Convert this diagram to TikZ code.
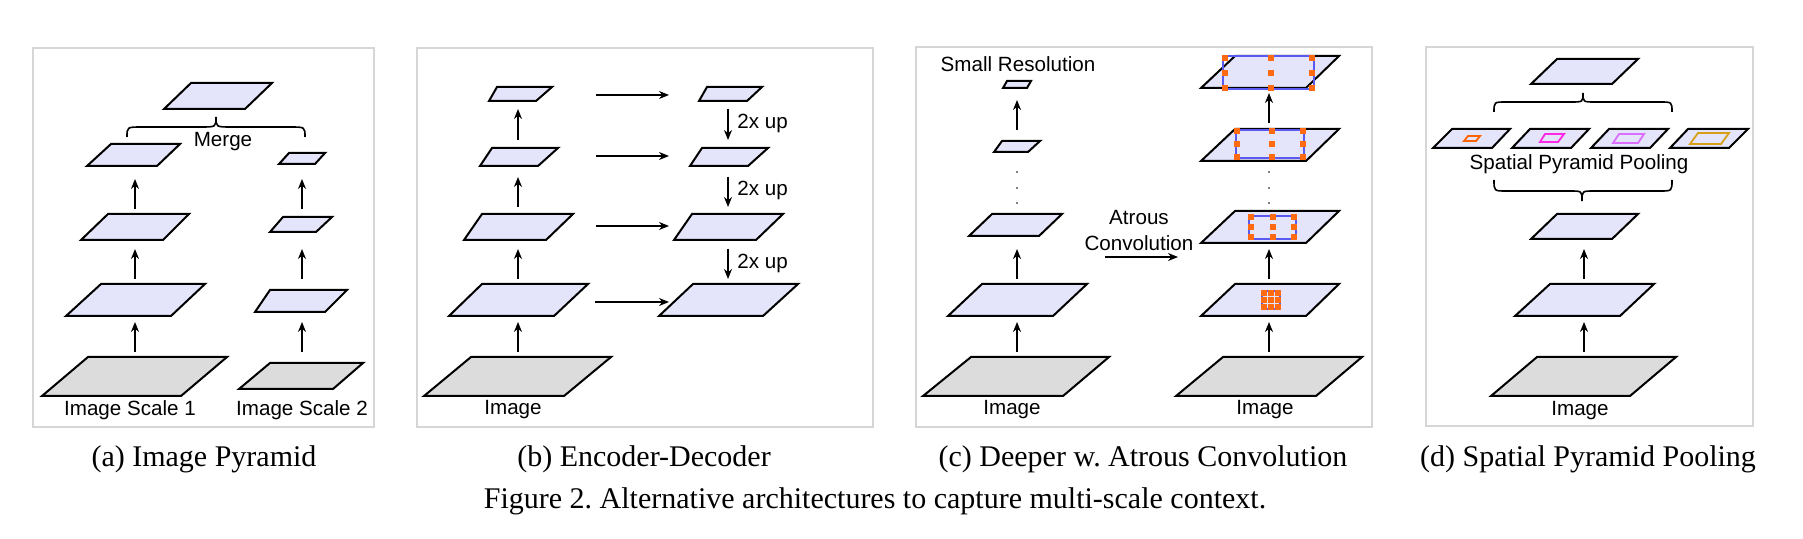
\documentclass[tikz,border=0pt]{standalone}
\usepackage{fontspec}
\setmainfont{Liberation Serif}
\newfontfamily\sansf{Liberation Sans}
\usetikzlibrary{arrows.meta}
\frenchspacing
\definecolor{lav}{HTML}{E4E4FB}
\definecolor{gr}{HTML}{DCDCDC}
\definecolor{frm}{HTML}{D6D6D6}
\definecolor{dotc}{HTML}{FF6A13}
\definecolor{bl}{HTML}{5A5AF0}
\newcommand\pgm[7]{\filldraw[pg,fill=#7] (#3,#1) -- (#4,#1) -- (#6,#2) -- (#5,#2) -- cycle;}
\newcommand\arw[5]{\coordinate (#1s) at (#2,#3); \coordinate (#1e) at (#4,#5); \draw[arr] (#1s) -- (#1e);}
\newcommand\brc[7]{% L R T E M P d
 \draw[brc] (#1,#4) .. controls (#1,#5) .. (#1+#7,#5) -- (#3-#7,#5) .. controls (#3,#5) .. (#3,#6)
  .. controls (#3,#5) .. (#3+#7,#5) -- (#2-#7,#5) .. controls (#2,#5) .. (#2,#4);}
\newcommand\od[2]{\fill[dotc] (#1-3,#2-3) rectangle (#1+3,#2+3);}
\tikzset{
 pg/.style={draw=black,line width=1pt,line join=miter},
 arr/.style={line width=0.8pt,-{Stealth[length=5pt,width=4pt]}},
 brc/.style={line width=0.8pt},
 lbl/.style={font=\sansf\fontsize{10.3}{12}\selectfont,inner sep=0pt},
 captxt/.style={font=\fontsize{15}{18}\selectfont,inner sep=0pt},
 frame/.style={draw=frm,line width=0.8pt},
 blr/.style={draw=bl,line width=0.7pt}
}
\begin{document}
\begin{tikzpicture}[x=0.5pt,y=-0.5pt]
\useasboundingbox (0,0) rectangle (1803,539);
% frames
\draw[frame] (33,48) rectangle (374,427);
\draw[frame] (417,48) rectangle (873,427);
\draw[frame] (916,47) rectangle (1372,427);
\draw[frame] (1426,47) rectangle (1753,426);
% ---------- (a)
\pgm{83}{109}{191}{272}{164}{245}{lav}
\brc{127}{305}{216}{137}{127}{117}{15}
\node[lbl] (merge) at (223,142) {Merge};
\pgm{144}{166}{111}{180}{87}{157}{lav}
\pgm{214}{240}{108}{189}{81}{163}{lav}
\pgm{284}{316}{101}{205}{66}{171}{lav}
\pgm{357}{396}{88}{227}{42}{181}{gr}
\pgm{153}{164}{289}{325}{279}{315}{lav}
\pgm{217}{232}{283}{332}{270}{316}{lav}
\pgm{290}{312}{270}{347}{255}{325}{lav}
\pgm{363}{389}{270}{363}{239}{333}{gr}
\arw{a1}{135}{209}{135}{179}
\arw{a2}{135}{279}{135}{249}
\arw{a3}{135}{352}{135}{322}
\arw{a4}{302}{209}{302}{179}
\arw{a5}{302}{279}{302}{249}
\arw{a6}{302}{352}{302}{322}
\node[lbl] (is1) at (130,410) {Image Scale 1};
\node[lbl] (is2) at (302,410) {Image Scale 2};
% ---------- (b)
\pgm{87}{101}{497}{552}{489}{536}{lav}
\pgm{148}{166}{492}{558}{480}{538}{lav}
\pgm{214}{240}{482}{573}{464}{546}{lav}
\pgm{284}{316}{482}{588}{449}{554}{lav}
\pgm{357}{396}{471}{611}{424}{564}{gr}
\arw{b1}{518}{140}{518}{109}
\arw{b2}{518}{207}{518}{177}
\arw{b3}{518}{279}{518}{249}
\arw{b4}{518}{352}{518}{322}
\pgm{87}{101}{707}{762}{699}{747}{lav}
\pgm{148}{166}{702}{768}{690}{748}{lav}
\pgm{214}{240}{692}{783}{674}{756}{lav}
\pgm{284}{316}{693}{798}{659}{763}{lav}
\arw{h1}{596}{95}{669}{95}
\arw{h2}{596}{156}{669}{156}
\arw{h3}{596}{226}{669}{226}
\arw{h4}{595}{302}{669}{302}
\arw{d1}{728}{109}{728}{140}
\arw{d2}{728}{177}{728}{207}
\arw{d3}{728}{249}{728}{279}
\node[lbl,anchor=west] (u1) at (737,123) {2x up};
\node[lbl,anchor=west] (u2) at (737,190) {2x up};
\node[lbl,anchor=west] (u3) at (737,263) {2x up};
\node[lbl] (imb) at (513,410) {Image};
% ---------- (c)
\node[lbl] (sr) at (1018,64) {Small Resolution};
\pgm{81}{88}{1007}{1031}{1003}{1027}{lav}
\pgm{141}{152}{1002}{1040}{994}{1028}{lav}
\pgm{214}{236}{992}{1062}{969}{1039}{lav}
\pgm{284}{316}{982}{1087}{948}{1053}{lav}
\pgm{357}{396}{971}{1109}{923}{1063}{gr}
\arw{c1}{1017}{130}{1017}{100}
\arw{c2}{1017}{279}{1017}{249}
\arw{c3}{1017}{352}{1017}{322}
\foreach \yy in {172,188,203}{\fill (1017,\yy) circle (0.9); \fill (1269,\yy) circle (0.9);}
\node[lbl,align=center] (atr) at (1139,231) {Atrous\\[1pt]Convolution};
\arw{h5}{1105}{257}{1178}{257}
\pgm{56}{88}{1235}{1339}{1201}{1306}{lav}
\draw[blr] (1223,56) rectangle (1314,89);
\foreach \xx in {1225,1271,1312}{\foreach \yy in {58,73,88}{\od{\xx}{\yy}}}
\pgm{129}{161}{1235}{1339}{1201}{1306}{lav}
\draw[blr] (1236,130) rectangle (1304,158);
\foreach \xx in {1237,1272,1303}{\foreach \yy in {131,144,157}{\od{\xx}{\yy}}}
\pgm{211}{243}{1235}{1339}{1201}{1306}{lav}
\draw[blr] (1249,216) rectangle (1296,239);
\foreach \xx in {1251,1273,1294}{\foreach \yy in {217,227,237}{\od{\xx}{\yy}}}
\pgm{284}{316}{1235}{1339}{1201}{1306}{lav}
\draw[blr] (1262,291) rectangle (1280,309);
\foreach \xx in {1264,1271,1278}{\foreach \yy in {293,300,307}{\fill[dotc] (\xx-2.6,\yy-2.6) rectangle (\xx+2.6,\yy+2.6);}}
\pgm{357}{396}{1223}{1362}{1176}{1316}{gr}
\arw{c4}{1269}{123}{1269}{93}
\arw{c5}{1269}{279}{1269}{249}
\arw{c6}{1269}{352}{1269}{322}
\node[lbl] (imc1) at (1012,410) {Image};
\node[lbl] (imc2) at (1265,410) {Image};
% ---------- (d)
\pgm{59}{84}{1557}{1638}{1531}{1612}{lav}
\brc{1494}{1672}{1583}{112}{102}{93}{12}
\pgm{129}{148}{1452}{1510}{1433}{1492}{lav}
\pgm{129}{148}{1530}{1589}{1512}{1571}{lav}
\pgm{129}{148}{1609}{1668}{1591}{1650}{lav}
\pgm{129}{148}{1688}{1748}{1670}{1729}{lav}
\draw[line width=0.9pt,draw={rgb,255:red,255;green,100;blue,0}] (1468,136) -- (1480,136) -- (1476,141) -- (1464,141) -- cycle;
\draw[line width=0.9pt,draw={rgb,255:red,255;green,40;blue,230}] (1545,134) -- (1564,134) -- (1558,142) -- (1540,142) -- cycle;
\draw[line width=0.9pt,draw={rgb,255:red,220;green,110;blue,255}] (1619,134) -- (1644,134) -- (1638,143) -- (1613,143) -- cycle;
\draw[line width=0.9pt,draw={rgb,255:red,215;green,160;blue,20}] (1698,133) -- (1729,133) -- (1721,144) -- (1690,144) -- cycle;
\node[lbl] (spp) at (1579,164) {Spatial Pyramid Pooling};
\brc{1494}{1672}{1582}{180}{191}{201}{12}
\pgm{214}{239}{1557}{1638}{1531}{1612}{lav}
\pgm{284}{316}{1550}{1654}{1515}{1620}{lav}
\pgm{357}{396}{1537}{1676}{1491}{1630}{gr}
\arw{e1}{1584}{279}{1584}{249}
\arw{e2}{1584}{352}{1584}{322}
\node[lbl] (imd) at (1580,411) {Image};
% ---------- captions
\node[captxt] (ca) at (204,459) {(a) Image Pyramid};
\node[captxt] (cb) at (644,459) {(b) Encoder-Decoder};
\node[captxt] (cc) at (1143,459) {(c) Deeper w. Atrous Convolution};
\node[captxt] (cd) at (1588,459) {(d) Spatial Pyramid Pooling};
\node[captxt] (fig) at (875,501) {Figure 2. Alternative architectures to capture multi-scale context.};
\end{tikzpicture}
\end{document}
